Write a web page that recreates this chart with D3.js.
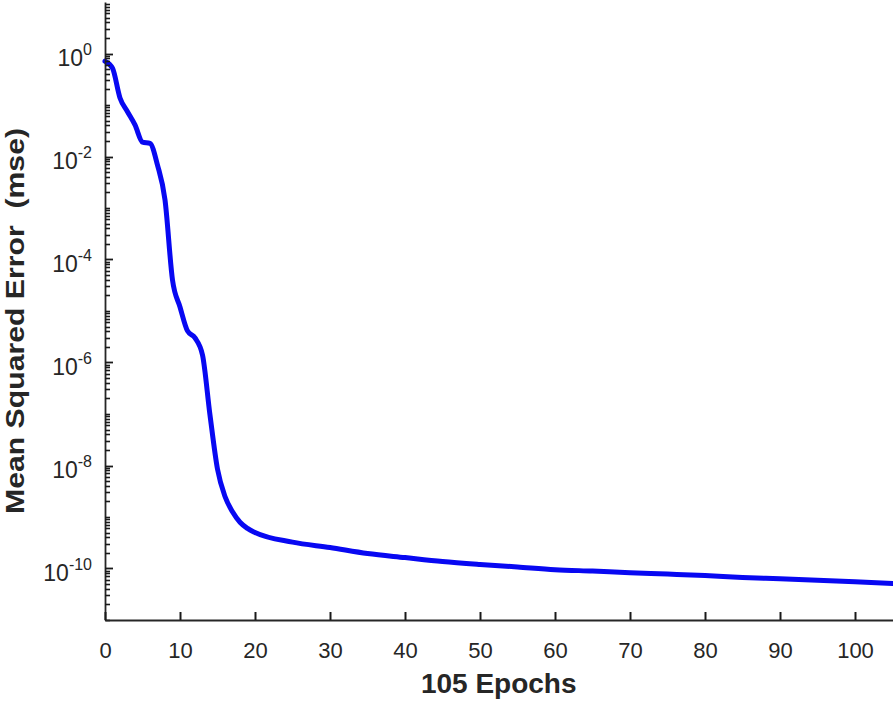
<!DOCTYPE html>
<meta charset="utf-8">
<script src="https://d3js.org/d3.v7.min.js"></script>
<style>
  body { margin: 0; background: #fff; }
  text { font-family: Arial, "Liberation Sans", Helvetica, sans-serif; fill: #262626; }
</style>
<div id="my_dataviz"></div>
<script>

// training curve
var epochs = [0, 1, 2, 3, 4, 5, 6, 7, 8, 9, 10, 11, 12, 13, 14, 15, 16, 17, 18, 19, 20,
              25, 30, 35, 40, 45, 50, 55, 60, 65, 70, 75, 80, 85, 90, 95, 100, 105];
var mse = [0.71, 0.52, 0.137, 0.074, 0.041, 0.019, 0.018, 0.0068, 0.00144, 4.0e-5, 1.2e-5,
           4.1e-6, 3.0e-6, 1.4e-6, 9.5e-8, 8.5e-9, 2.5e-9, 1.26e-9, 7.9e-10, 6.0e-10, 5.0e-10,
           3.25e-10, 2.55e-10, 1.95e-10, 1.63e-10, 1.37e-10, 1.2e-10, 1.07e-10, 9.5e-11, 8.9e-11,
           8.3e-11, 7.8e-11, 7.3e-11, 6.7e-11, 6.3e-11, 5.9e-11, 5.5e-11, 5.1e-11];

// axis ticks
var xTicks = [0, 10, 20, 30, 40, 50, 60, 70, 80, 90, 100];
var yExponents = [0, -2, -4, -6, -8, -10];

var W = 893, H = 702;
var plotLeft = 105, plotRight = 892.5, plotTop = 2, plotBottom = 620;

var svg = d3.select("#my_dataviz")
    .append("svg")
    .attr("width", W)
    .attr("height", H)
    .style("display", "block");

svg.append("rect").attr("width", W).attr("height", H).attr("fill", "#fff");

var x = d3.scaleLinear()
    .domain([0, 105])
    .range([plotLeft, plotRight]);

var y = d3.scaleLog()
    .domain([1e-11, 1e1])
    .range([plotBottom, plotTop]);

// major + minor tick values for the log axis
var majorVals = yExponents.map(function(e) { return Math.pow(10, e); });
var minorVals = [];
for (var k = -11; k <= 0; k++) {
    for (var m = 1; m <= 9; m++) {
        if (m == 1 && yExponents.indexOf(k) >= 0) continue;
        minorVals.push(m * Math.pow(10, k));
    }
}

// curve
var line = d3.line()
    .x(function(d, i) { return x(epochs[i]); })
    .y(function(d) { return y(d); })
    .curve(d3.curveMonotoneX);

svg.append("path")
    .datum(mse)
    .attr("d", line)
    .attr("fill", "none")
    .attr("stroke", "#0808f2")
    .attr("stroke-width", 5)
    .attr("stroke-linejoin", "round")
    .attr("stroke-linecap", "round");

// Y axis spine
var yAxis = svg.append("g")
    .attr("transform", "translate(" + plotLeft + ",0)")
    .call(d3.axisLeft(y).tickValues([]).tickSizeOuter(0));
yAxis.select(".domain").attr("stroke", "#262626").attr("stroke-width", 1.8);

// y ticks point inward (to the right)
svg.append("g").selectAll("line")
    .data(minorVals)
    .enter()
    .append("line")
    .attr("x1", plotLeft)
    .attr("x2", plotLeft + 5)
    .attr("y1", function(d) { return Math.round(y(d)) + 0.5; })
    .attr("y2", function(d) { return Math.round(y(d)) + 0.5; })
    .attr("stroke", "#1a1a1a")
    .attr("stroke-width", 1.6);

svg.append("g").selectAll("line")
    .data(majorVals)
    .enter()
    .append("line")
    .attr("x1", plotLeft)
    .attr("x2", plotLeft + 8)
    .attr("y1", function(d) { return Math.round(y(d)) + 0.5; })
    .attr("y2", function(d) { return Math.round(y(d)) + 0.5; })
    .attr("stroke", "#1a1a1a")
    .attr("stroke-width", 1.8);

var ylab = svg.append("g").selectAll("text")
    .data(yExponents)
    .enter()
    .append("text")
    .attr("x", 92)
    .attr("y", function(d) { return y(Math.pow(10, d)) + 12.5; })
    .attr("text-anchor", "end")
    .style("font-size", "23px");
ylab.append("tspan").text("10");
ylab.append("tspan")
    .attr("dy", -11)
    .style("font-size", "16px")
    .text(function(d) { return d == 0 ? "0" : "-" + Math.abs(d); });

// X axis
var xAxis = svg.append("g")
    .attr("transform", "translate(0," + plotBottom + ")")
    .call(d3.axisBottom(x).tickValues(xTicks).tickSize(-8).tickSizeOuter(0).tickPadding(22));
xAxis.selectAll("line").attr("stroke", "#1a1a1a").attr("stroke-width", 2);
xAxis.select(".domain").attr("stroke", "#262626").attr("stroke-width", 1.8);
xAxis.selectAll("text")
    .style("font-size", "22px")
    .attr("fill", "#262626");

// axis titles
svg.append("text")
    .attr("x", (plotLeft + plotRight) / 2)
    .attr("y", 693)
    .attr("text-anchor", "middle")
    .style("font-size", "28px")
    .style("font-weight", "bold")
    .text("105 Epochs");

svg.append("text")
    .attr("transform", "translate(24,321)rotate(-90)")
    .attr("text-anchor", "middle")
    .attr("textLength", 386)
    .attr("lengthAdjust", "spacingAndGlyphs")
    .style("font-size", "26px")
    .style("font-weight", "bold")
    .style("white-space", "pre")
    .text("Mean Squared Error  (mse)");

</script>
